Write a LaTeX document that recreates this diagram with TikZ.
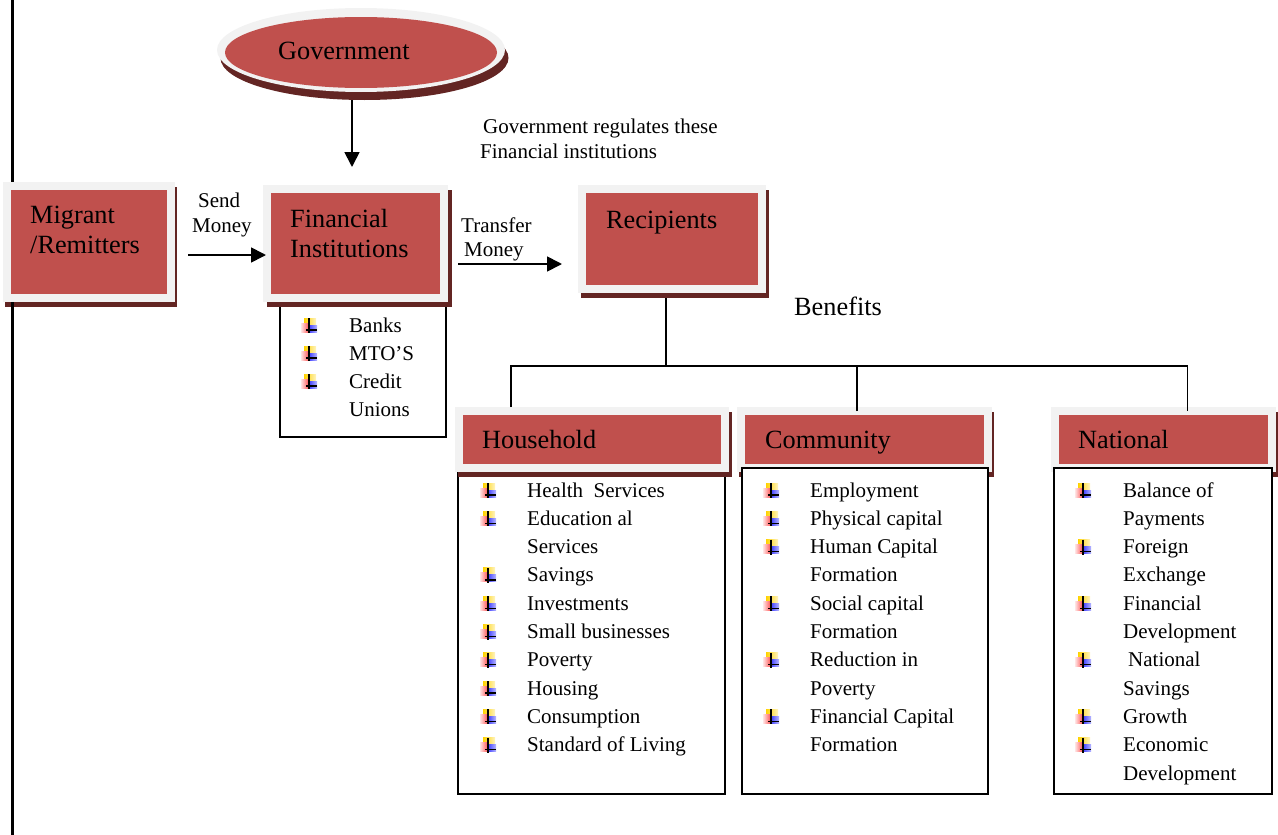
\documentclass[tikz,border=0pt]{standalone}
\usepackage{fontspec}
\setmainfont{Liberation Serif}
\usetikzlibrary{arrows.meta,shapes.geometric,calc}
\pgfdeclarelayer{bg}
\pgfsetlayers{bg,main}
\definecolor{boxred}{HTML}{C0504D}
\definecolor{boxgrey}{HTML}{F2F2F2}
\definecolor{boxshade}{HTML}{632523}
\definecolor{buly}{HTML}{FFD200}
\definecolor{bulr}{HTML}{FF4D4D}
\definecolor{bulb}{HTML}{3333FF}
\tikzset{
  hdr/.style={rectangle, fill=boxred, draw=boxgrey, line width=8pt, outer sep=4pt, inner sep=0pt},
  shd/.style={fill=boxshade},
  big/.style={anchor=base west, inner sep=0pt, font=\fontsize{26.3}{30}\selectfont},
  sml/.style={anchor=base west, inner sep=0pt, font=\fontsize{21}{25}\selectfont},
  listbox/.style={rectangle, draw=black, line width=1.6pt, inner sep=0pt},
  arr/.style={-{Triangle[length=15pt,width=15pt]}, line width=1.7pt},
  ln/.style={line width=1.6pt},
  bul/.pic={
    \shade[left color=buly, right color=buly!25] (-5,-7) rectangle (7,2);
    \shade[left color=bulr!15, right color=bulr] (-8,-2) rectangle (0,7);
    \shade[left color=bulb, right color=bulb!35] (-1,0) rectangle (8,7);
    \draw[line width=1.3pt] (0,-7) -- (0,8);
    \draw[line width=1.3pt] (-3,5) -- (8,5);
  }
}
\begin{document}
\begin{tikzpicture}[x=1pt,y=-1pt]
\useasboundingbox (0,0) rectangle (1278,835);
\draw[line width=2.2pt] (12.5,0) -- (12.5,835);

% government ellipse
\node[ellipse, fill=boxred, minimum width=272pt, minimum height=71pt, inner sep=0pt] (gov) at (361,52.5) {};
\node[big] (govt) at (278,59) {Government};

% header boxes
\node[hdr, minimum width=164pt, minimum height=112pt] (mig) at (89,242) {};
\node[hdr, minimum width=177pt, minimum height=109pt] (fin) at (355.5,243.5) {};
\node[hdr, minimum width=180pt, minimum height=100pt] (rec) at (672,239) {};
\node[hdr, minimum width=266pt, minimum height=57pt] (hh) at (592,439.5) {};
\node[hdr, minimum width=247pt, minimum height=57pt] (com) at (864.5,439.5) {};
\node[hdr, minimum width=217pt, minimum height=57pt] (nat) at (1163.5,439.5) {};

% list boxes
\node[listbox, fill=white, minimum width=246pt, minimum height=326pt] (coml) at (865,631) {};
\node[listbox, fill=white, minimum width=218pt, minimum height=326pt] (natl) at (1163,631) {};

\begin{pgfonlayer}{bg}
  \node[listbox, minimum width=166pt, minimum height=139pt] (finl) at (363,367.5) {};
  \node[listbox, minimum width=267pt, minimum height=326pt] (hhl) at (591.5,631) {};
  \foreach \n/\dx in {mig/2,fin/4,rec/3,hh/3,com/2,nat/2}
    \fill[shd] ([shift={(\dx,5)}]\n.north west) rectangle ([shift={(\dx,5)}]\n.south east);
  \fill[shd] ([shift={(3.5,5.5)}]gov.center) ellipse [x radius=144pt, y radius=42pt];
  \fill[boxgrey] ([shift={(0,-2.5)}]gov.center) ellipse [x radius=144pt, y radius=42pt];
\end{pgfonlayer}

% header texts
\node[big] (migt1) at (30,223) {Migrant};
\node[big] (migt2) at (30,253) {/Remitters};
\node[big] (fint1) at (290,227) {Financial};
\node[big] (fint2) at (290,257) {Institutions};
\node[big] (rect) at (606,228) {Recipients};
\node[big] (hht) at (482,448) {Household};
\node[big] (comt) at (765,448) {Community};
\node[big] (natt) at (1078,448) {National};
\node[big] (ben) at (794,315) {Benefits};

% small labels
\node[sml] (send1) at (198,207) {Send};
\node[sml] (send2) at (192,232) {Money};
\node[sml] (tr1) at (461,232) {Transfer};
\node[sml] (tr2) at (464,256) {Money};
\node[sml] (reg1) at (483,133) {Government regulates these};
\node[sml] (reg2) at (480,158) {Financial institutions};

% arrows
\draw[arr] ([shift={(13,13)}]mig.east) -- ([shift={(3,11.5)}]fin.west);
\draw[arr] ([shift={(10,20.5)}]fin.east) -- ([shift={(-16,25)}]rec.west);
\draw[arr] ([shift={(-9,12)}]gov.south) -- ([shift={(-3.5,-18)}]fin.north);

% tree
\draw[ln] ([shift={(-6,5)}]rec.south) -- ++(0,68);
\draw[ln] ([shift={(-81,0)}]hh.north) -- ++(0,-41) -| ([shift={(24,4)}]nat.north);
\draw[ln] ([shift={(-7.5,4)}]com.north) -- ++(0,-45);

% financial list
\foreach \t [count=\i] in {Banks, MTO’S, Credit, Unions}
  \node[sml] (fi\i) at (349,{332+28*(\i-1)}) {\t};
\foreach \i in {1,2,3}
  \pic at (309,{325+28*(\i-1)}) {bul};

% household list
\foreach \t [count=\i] in {Health\ \ Services, Education al, Services, Savings, Investments, Small businesses, Poverty, Housing, Consumption, Standard of Living}
  \node[sml] (hhi\i) at (527,{497+28.3*(\i-1)}) {\t};
\foreach \i in {1,2,4,5,6,7,8,9,10}
  \pic at (488,{490+28.3*(\i-1)}) {bul};

% community list
\foreach \t [count=\i] in {Employment, Physical capital, Human Capital, Formation, Social capital, Formation, Reduction in, Poverty, Financial Capital, Formation}
  \node[sml] (cmi\i) at (810,{497+28.3*(\i-1)}) {\t};
\foreach \i in {1,2,3,5,7,9}
  \pic at (771,{490+28.3*(\i-1)}) {bul};

% national list
\foreach \t/\dx [count=\i] in {Balance of/0, Payments/0, Foreign/0, Exchange/0, Financial/0, Development/0, National/5, Savings/0, Growth/0, Economic/0, Development/0}
  \node[sml] (nai\i) at ({1123+\dx},{497+28.3*(\i-1)}) {\t};
\foreach \i in {1,3,5,7,9,10}
  \pic at (1083,{490+28.3*(\i-1)}) {bul};
\end{tikzpicture}
\end{document}
